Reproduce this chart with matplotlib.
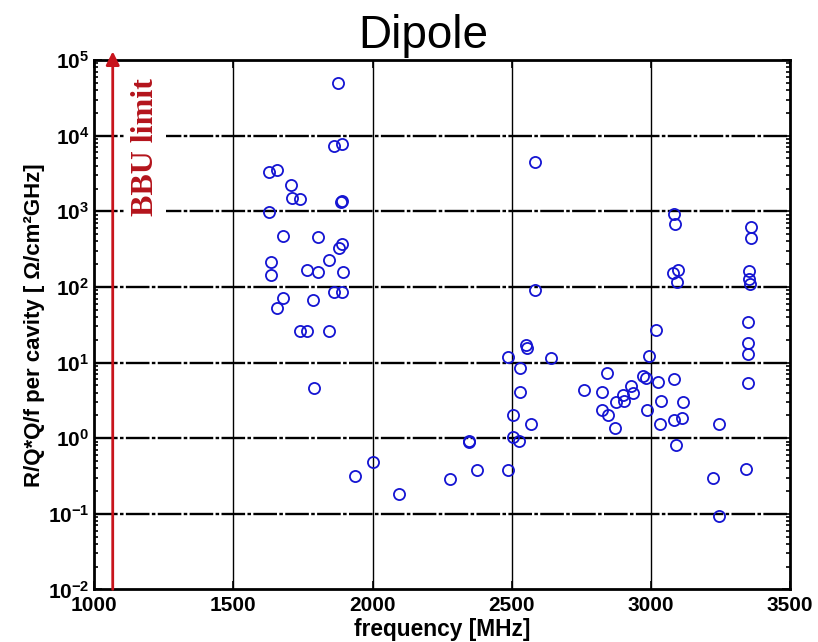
import numpy as np
import matplotlib.pyplot as plt
from matplotlib.ticker import LogLocator, NullFormatter

plt.rcParams['font.family'] = ['Liberation Sans', 'DejaVu Sans']

# dipole modes: frequency [MHz] and R/Q*Q/f per cavity
freq = [1875, 1863, 1890, 1630, 1656, 1708, 1712, 1740, 1890, 1887,
        1630, 1680, 1804, 1890, 1878, 1845, 1636, 1636, 1764, 1804,
        1893, 1863, 1890, 1680, 1656, 1788, 1740, 1764, 1845, 1790,
        1938, 2000, 2096, 2279, 2377, 2486, 2347, 2347, 2504, 2527,
        2582, 2582, 3084, 3087, 3079, 3097, 3095, 3360, 3360, 3353,
        3353, 3357, 3348, 3348, 3348, 3348, 3019, 2994, 2552, 2555,
        2486, 2641, 2528, 2528, 2504, 2569, 2842, 2761, 2823, 2928,
        2937, 2898, 2875, 2904, 2823, 2847, 2871, 2973, 2982, 3027,
        3084, 2984, 3037, 3115, 3033, 3081, 3113, 3246, 3091, 3222,
        3341, 3246]
rq = [4.9e4, 7350, 7740, 3270, 3510, 2220, 1495, 1450, 1376, 1335,
      967, 466, 451, 368, 326, 228, 211, 143, 168, 155,
      158, 84.6, 84.6, 71, 52, 67, 26.3, 26.3, 25.8, 4.54,
      0.311, 0.477, 0.185, 0.287, 0.377, 0.377, 0.92, 0.877, 1.02, 0.92,
      4520, 91.6, 918, 677, 152, 168, 117, 612, 438, 160,
      127, 109, 34.5, 18, 12.9, 5.29, 27.1, 12.3, 17, 15.4,
      11.7, 11.4, 8.36, 4.1, 2.02, 1.52, 7.24, 4.35, 4.02, 4.83,
      3.9, 3.7, 2.97, 3.06, 2.35, 2.03, 1.36, 6.67, 6.16, 5.56,
      6.03, 2.35, 3.11, 2.97, 1.53, 1.73, 1.82, 1.56, 0.816, 0.293,
      0.389, 0.092]

bbu_freq = 1067
xticks = [1000, 1500, 2000, 2500, 3000, 3500]

fig = plt.figure(figsize=(8.18, 6.42), dpi=100)
ax = fig.add_axes([0.115, 0.082, 0.851, 0.8245])

ax.set_yscale('log')
ax.set_xlim(1000, 3500)
ax.set_ylim(1e-2, 1e5)

ax.plot(freq, rq, 'o', mfc='none', mec='#1414d2', ms=8, mew=1.3,
        linestyle='none', zorder=4)

# grid: solid verticals, dash-dot decades
for xv in xticks[1:-1]:
    ax.axvline(xv, color='black', lw=1.0, zorder=1)
for e in range(-1, 5):
    ax.axhline(10.0 ** e, color='black', lw=1.7,
               linestyle=(0, (10, 1, 1.5, 1)), zorder=1)

ax.set_xticks(xticks)
ax.yaxis.set_major_locator(LogLocator(base=10, numticks=10))
ax.yaxis.set_minor_locator(LogLocator(base=10, subs=np.arange(2, 10), numticks=20))
ax.yaxis.set_minor_formatter(NullFormatter())
ax.tick_params(which='both', direction='in', top=True, right=True,
               labelsize=15, width=1.2)
ax.tick_params(which='major', length=6)
ax.tick_params(which='minor', length=3)
for lab in ax.get_xticklabels() + ax.get_yticklabels():
    lab.set_fontweight('bold')
ax.tick_params(axis='x', pad=5)
for s in ax.spines.values():
    s.set_linewidth(2)

ax.set_xlabel('frequency [MHz]', fontsize=16.4, fontweight='bold', labelpad=2)
ax.set_ylabel('R/Q*Q/f per cavity [ Ω/cm²GHz]', fontsize=16,
              fontweight='bold', labelpad=2)

# BBU limit arrow
ax.annotate('', xy=(bbu_freq, 1.3e5), xytext=(bbu_freq, 1e-2),
            arrowprops=dict(arrowstyle='-|>', color='#c8141c', lw=2,
                            mutation_scale=20, shrinkA=0, shrinkB=0),
            annotation_clip=False, zorder=5)
ax.text(1183, 7000, 'BBU limit', rotation=90, ha='center', va='center',
        fontsize=23, fontweight='bold', color='#b4141c',
        family='Liberation Serif', zorder=3,
        bbox=dict(boxstyle='square,pad=0.2', fc='white', ec='none'))

fig.text(0.518, 0.925, 'Dipole', fontsize=33, ha='center', va='baseline')

fig.savefig('out.png', dpi=100)
